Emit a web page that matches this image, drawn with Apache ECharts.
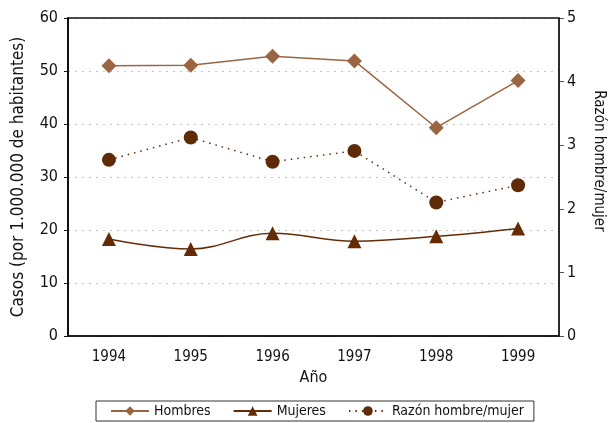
<!DOCTYPE html>
<html>
<head>
<meta charset="utf-8">
<script src="https://cdn.jsdelivr.net/npm/echarts@6/dist/echarts.min.js"></script>
<style>
html,body{margin:0;padding:0;background:#fff;}
#main{width:615px;height:423px;}
</style>
</head>
<body>
<div id="main"></div>
<script>
const years = ['1994','1995','1996','1997','1998','1999'];
const hombres = [51.0, 51.1, 52.8, 51.9, 39.3, 48.2];
const mujeres = [18.3, 16.4, 19.4, 17.9, 18.8, 20.3];
const razon = [2.77, 3.12, 2.74, 2.91, 2.10, 2.37];

const font = '"Liberation Sans Narrow", "DejaVu Sans Condensed", sans-serif';

var chart = echarts.init(document.getElementById('main'));
var option = {
    animation: false,
    textStyle: { fontFamily: font },
    grid: { left: 68, right: 56, top: 18, bottom: 87, show: true, borderColor: '#111', borderWidth: 1.5, z: 3 },
    xAxis: {
        type: 'category',
        data: years,
        name: 'Año',
        nameLocation: 'middle',
        nameGap: 34,
        nameTextStyle: { fontSize: 16, color: '#111', fontFamily: font },
        axisLine: { lineStyle: { color: '#111', width: 1.5 } },
        axisTick: { show: false },
        axisLabel: { fontSize: 15, color: '#111', margin: 14, fontFamily: font }
    },
    yAxis: [
        {
            type: 'value',
            min: 0, max: 60, interval: 10,
            name: 'Casos (por 1.000.000 de habitantes)',
            nameLocation: 'middle',
            nameGap: 41,
            nameTextStyle: { fontSize: 17, color: '#111', fontFamily: font },
            axisLine: { show: true, lineStyle: { color: '#111', width: 2 } },
            axisTick: { show: true, length: 4, lineStyle: { color: '#111' } },
            axisLabel: { fontSize: 16, color: '#111', margin: 10, fontFamily: font },
            splitLine: { show: true, lineStyle: { color: '#c4c4c4', type: [2, 5], width: 1 } }
        },
        {
            type: 'value',
            min: 0, max: 5, interval: 1,
            position: 'right',
            name: 'Razón hombre/mujer',
            nameLocation: 'middle',
            nameRotate: -90,
            nameGap: 32,
            nameTextStyle: { fontSize: 15, color: '#111', fontFamily: font, padding: [0, 32, 0, 0] },
            axisLine: { show: true, lineStyle: { color: '#555', width: 1.5 } },
            axisTick: { show: true, length: 5, lineStyle: { color: '#555' } },
            axisLabel: { fontSize: 16, color: '#111', margin: 8, fontFamily: font },
            splitLine: { show: false }
        }
    ],
    legend: {
        bottom: 2,
        left: 96,
        orient: 'horizontal',
        borderColor: '#333',
        borderWidth: 1,
        padding: [3, 10, 3, 14],
        itemWidth: 38,
        itemHeight: 12,
        itemGap: 22,
        textStyle: { fontSize: 14, color: '#111', fontFamily: font },
        data: ['Hombres', 'Mujeres', 'Razón hombre/mujer']
    },
    series: [
        {
            name: 'Hombres',
            type: 'line',
            data: hombres,
            symbol: 'diamond',
            symbolSize: 15,
            itemStyle: { color: '#9a6540' },
            lineStyle: { color: '#9a6540', width: 1.5 }
        },
        {
            name: 'Mujeres',
            type: 'line',
            data: mujeres,
            smooth: 0.4,
            symbol: 'triangle',
            symbolSize: 14,
            itemStyle: { color: '#652b05' },
            lineStyle: { color: '#652b05', width: 1.5 }
        },
        {
            name: 'Razón hombre/mujer',
            type: 'line',
            yAxisIndex: 1,
            data: razon,
            symbol: 'circle',
            symbolSize: 14,
            itemStyle: { color: '#5e2a08' },
            lineStyle: { color: '#5e2a08', width: 1.5, type: [1.5, 5] }
        }
    ]
};
chart.setOption(option);
</script>
</body>
</html>
